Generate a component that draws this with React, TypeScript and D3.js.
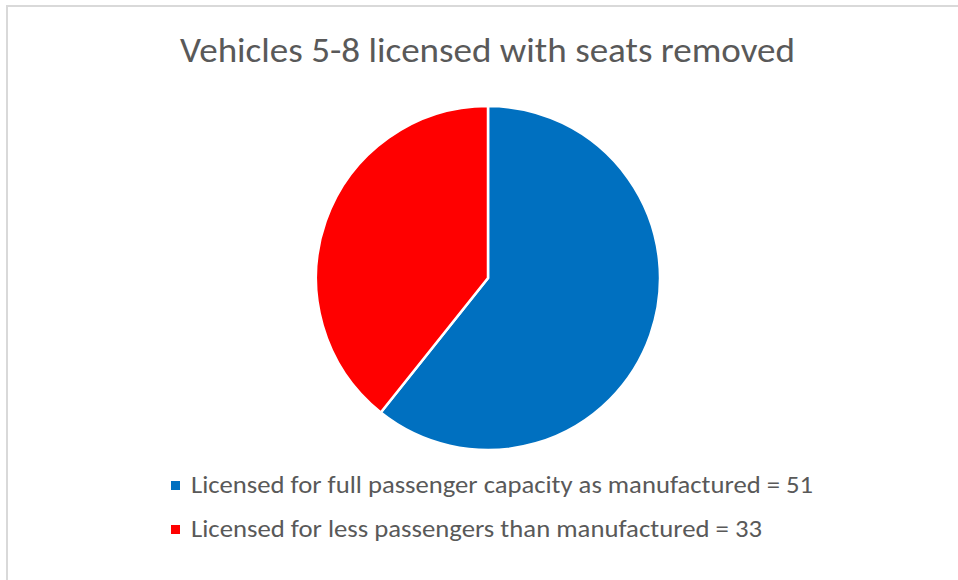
import React from "react";
import * as d3 from "d3";

const categories = [
  "Licensed for full passenger capacity as manufactured",
  "Licensed for less passengers than manufactured",
];
const values = [51, 33];
const colors = ["#0070C0", "#FF0000"];
const title = "Vehicles 5-8 licensed with seats removed";

const W = 958;
const H = 580;

export default function App() {
  const cx = 488;
  const cy = 278;
  const r = 172;
  const pie = d3.pie<number>().sort(null).value((d) => d)(values);
  const arc = d3.arc<d3.PieArcDatum<number>>().innerRadius(0).outerRadius(r);
  const font = "Carlito, Lato, 'Open Sans', sans-serif";
  const legendX = 171;
  const legendY0 = 481;
  const legendStep = 44;
  const legendWidths = [622, 571];
  return (
    <svg
      width={W}
      height={H}
      style={{ position: "absolute", left: 0, top: 0, background: "#fff" }}
    >
      <rect x={0} y={0} width={W} height={H} fill="#fff" />
      <line x1={6} y1={6} x2={W} y2={6} stroke="#d9d9d9" strokeWidth={2} />
      <line x1={7} y1={6} x2={7} y2={H} stroke="#d9d9d9" strokeWidth={2} />
      <text
        x={487.5}
        y={62}
        textAnchor="middle"
        fontFamily={font}
        fontSize={34}
        fontWeight={300}
        fill="#595959"
        textLength={615}
        lengthAdjust="spacingAndGlyphs"
      >
        {title}
      </text>
      <g transform={`translate(${cx},${cy})`}>
        {pie.map((p, i) => (
          <path
            key={i}
            d={arc(p) || ""}
            fill={colors[i]}
            stroke="#fff"
            strokeWidth={2.5}
          />
        ))}
      </g>
      {categories.map((c, i) => (
        <g key={c} transform={`translate(${legendX},${legendY0 + i * legendStep})`}>
          <rect x={0} y={0} width={9} height={9} fill={colors[i]} />
          <text
            x={20}
            y={12}
            fontFamily={font}
            fontSize={24}
            fill="#595959"
            textLength={legendWidths[i]}
            lengthAdjust="spacingAndGlyphs"
          >
            {`${c} = ${values[i]}`}
          </text>
        </g>
      ))}
    </svg>
  );
}
